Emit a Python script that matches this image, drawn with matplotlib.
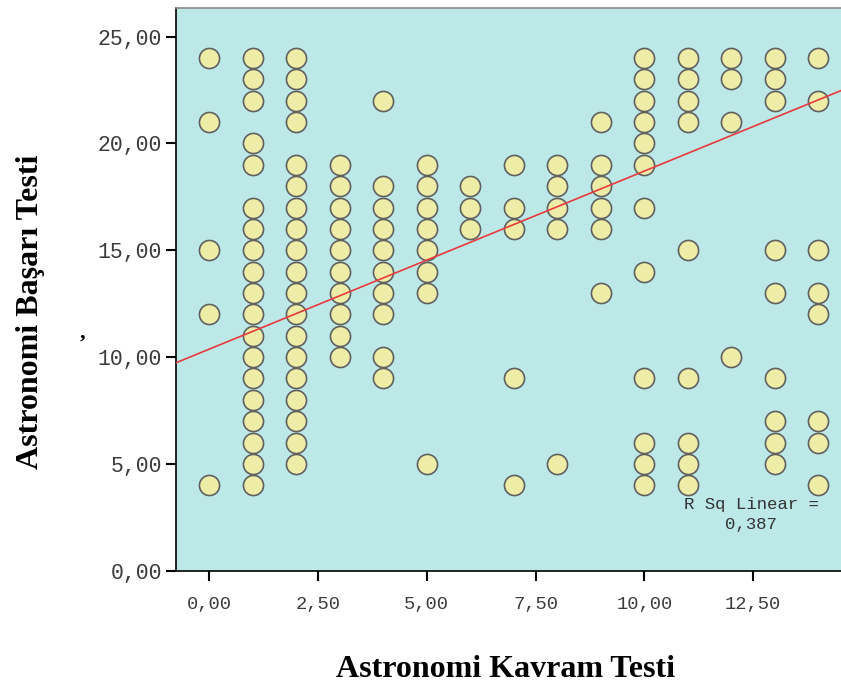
import numpy as np
import matplotlib
matplotlib.use('Agg')
import matplotlib.pyplot as plt

# x value -> y values seen at that x (overlapping duplicates not visible)
kavram_x = [0, 1, 2, 3, 4, 5, 6, 7, 8, 9, 10, 11, 12, 13, 14]
basari_y = [
    [24, 21, 15, 12, 4],
    [24, 23, 22, 20, 19, 17, 16, 15, 14, 13, 12, 11, 10, 9, 8, 7, 6, 5, 4],
    [24, 23, 22, 21, 19, 18, 17, 16, 15, 14, 13, 12, 11, 10, 9, 8, 7, 6, 5],
    [19, 18, 17, 16, 15, 14, 13, 12, 11, 10],
    [22, 18, 17, 16, 15, 14, 13, 12, 10, 9],
    [19, 18, 17, 16, 15, 14, 13, 5],
    [18, 17, 16],
    [19, 17, 16, 9, 4],
    [19, 18, 17, 16, 5],
    [21, 19, 18, 17, 16, 13],
    [24, 23, 22, 21, 20, 19, 17, 14, 9, 6, 5, 4],
    [24, 23, 22, 21, 15, 9, 6, 5, 4],
    [24, 23, 21, 10],
    [24, 23, 22, 15, 13, 9, 7, 6, 5],
    [24, 22, 15, 13, 12, 7, 6, 4],
]
fit_intercept = 10.37
fit_slope = 0.834
r_sq = '0,387'

xticks = [0, 2.5, 5, 7.5, 10, 12.5]
yticks = [0, 5, 10, 15, 20, 25]

xs = []
ys = []
for x, col in zip(kavram_x, basari_y):
    for y in col:
        xs.append(x)
        ys.append(y)

fig = plt.figure(figsize=(8.41, 6.91), dpi=100)
ax = fig.add_axes([0.2093, 0.1741, 0.7907, 0.8139])
ax.set_facecolor('#bde8e8')

ax.scatter(xs, ys, s=210, facecolor='#eeeda8', edgecolor='#606060', linewidth=1.2, zorder=3)

xl = np.array([-0.761, 14.517])
ax.plot(xl, fit_intercept + fit_slope * xl, color='#e83a3c', linewidth=1.2, zorder=4)

ax.set_xlim(-0.761, 14.517)
ax.set_ylim(0, 26.33)

ax.set_xticks(xticks)
ax.set_yticks(yticks)
ax.set_xticklabels([('%.2f' % v).replace('.', ',') for v in xticks])
ax.set_yticklabels([('%.2f' % v).replace('.', ',') for v in yticks])
for lab in ax.get_xticklabels():
    lab.set_fontfamily('Liberation Mono')
    lab.set_fontsize(13.5)
    lab.set_color('#3c3c3c')
for lab in ax.get_yticklabels():
    lab.set_fontfamily('Liberation Mono')
    lab.set_fontsize(15.5)
    lab.set_color('#3c3c3c')
ax.tick_params(axis='both', length=7, width=1.5, color='black')
ax.tick_params(axis='x', pad=11)
ax.tick_params(axis='y', pad=3)

for s in ['left', 'bottom']:
    ax.spines[s].set_color('black')
    ax.spines[s].set_linewidth(1.2)
ax.spines['top'].set_color('#888888')
ax.spines['top'].set_linewidth(1.2)
ax.spines['right'].set_visible(False)

ax.text(12.45, 2.62, 'R Sq Linear =\n' + r_sq, fontfamily='Liberation Mono',
        fontsize=12.5, color='#333333', ha='center', va='center', linespacing=1.45)

fig.text(0.601, 0.031, 'Astronomi Kavram Testi', fontfamily='Liberation Serif',
         fontweight='bold', fontsize=23, ha='center', va='center')
fig.text(0.036, 0.549, 'Astronomi Başarı Testi', fontfamily='Liberation Serif',
         fontweight='bold', fontsize=23, ha='center', va='center', rotation=90)
fig.text(0.098, 0.518, ',', fontfamily='Liberation Serif', fontweight='bold',
         fontsize=16, ha='center', va='center')

fig.savefig('out.png', dpi=100)
